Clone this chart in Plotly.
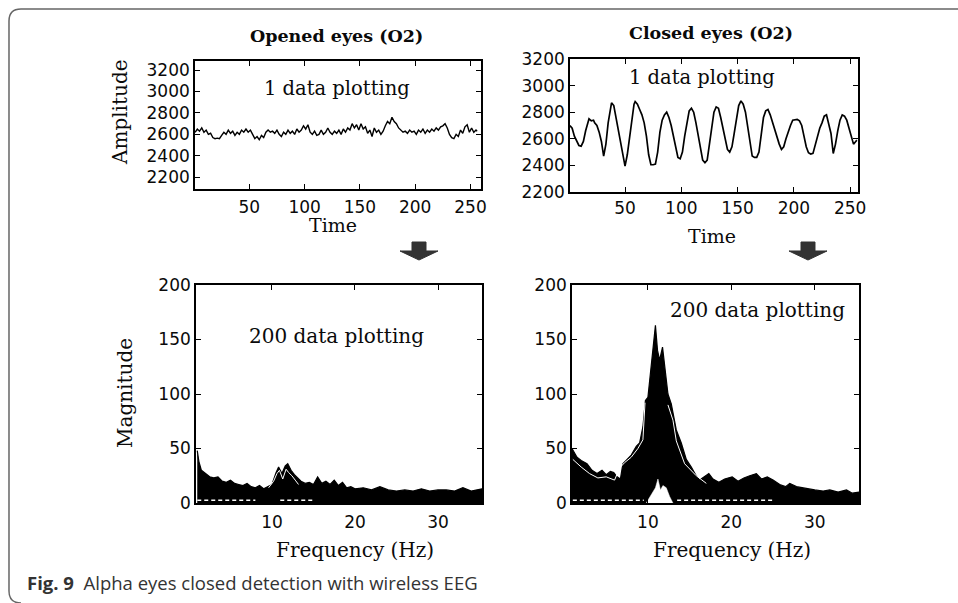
import plotly.graph_objects as go

W, H = 958, 603

# ---------------- data ----------------
# Opened eyes raw signal (time, amplitude)
open_t = [1, 3, 5, 7, 9, 11, 13, 15, 17, 19, 21, 23, 25, 27, 29, 31, 33, 35, 37, 39,
          41, 43, 45, 47, 49, 51, 53, 55, 57, 59, 61, 63, 65, 67, 69, 71, 73, 75, 77, 79,
          81, 83, 85, 87, 89, 91, 93, 95, 97, 99, 101, 103, 105, 107, 109, 111, 113, 115, 117, 119,
          121, 123, 125, 127, 129, 131, 133, 135, 137, 139, 141, 143, 145, 147, 149, 151, 153, 155, 157, 159,
          161, 163, 165, 167, 169, 171, 173, 175, 177, 179, 181, 183, 185, 187, 189, 191, 193, 195, 197, 199,
          201, 203, 205, 207, 209, 211, 213, 215, 217, 219, 221, 223, 225, 227, 229, 231, 233, 235, 237, 239,
          241, 243, 245, 247, 249, 251, 253, 255, 256]
open_v = [2620, 2650, 2630, 2660, 2620, 2640, 2600, 2610, 2570, 2560, 2565, 2560, 2590, 2620, 2600, 2640, 2610, 2630, 2590, 2620,
          2600, 2640, 2620, 2650, 2620, 2640, 2600, 2560, 2580, 2550, 2590, 2570, 2620, 2640, 2620, 2630, 2610, 2640, 2600, 2580,
          2620, 2600, 2640, 2610, 2630, 2600, 2650, 2620, 2640, 2680, 2650, 2690, 2620, 2600, 2630, 2590, 2600, 2640, 2600, 2620,
          2660, 2620, 2600, 2630, 2610, 2640, 2600, 2650, 2620, 2660, 2640, 2700, 2660, 2690, 2640, 2700, 2650, 2670, 2610, 2640,
          2580, 2660, 2620, 2640, 2600, 2630, 2680, 2720, 2700, 2760, 2720, 2700, 2660, 2640, 2620, 2630, 2610, 2640, 2620, 2630,
          2600, 2640, 2620, 2650, 2610, 2640, 2620, 2650, 2630, 2660, 2640, 2670, 2680, 2700, 2660, 2600, 2570, 2560, 2600, 2580,
          2640, 2610, 2670, 2690, 2620, 2660, 2620, 2640, 2630]

# Closed eyes raw signal (time, amplitude)
closed_t = [1, 3, 5, 7, 9, 11, 13, 15, 17, 18, 20, 22, 23, 25, 27, 29, 31, 33, 35, 37,
            38, 40, 42, 44, 46, 48, 50, 52, 54, 56, 58, 59, 61, 63, 65, 67, 69, 71, 73, 75,
            77, 79, 81, 83, 85, 87, 89, 91, 93, 95, 97, 99, 101, 103, 105, 107, 109, 111, 113, 115,
            117, 119, 121, 123, 125, 127, 129, 131, 133, 135, 137, 139, 141, 143, 145, 147, 149, 151, 153, 155,
            157, 159, 161, 163, 165, 167, 169, 171, 173, 175, 177, 179, 181, 183, 185, 187, 189, 191, 193, 195,
            197, 199, 201, 203, 205, 207, 209, 211, 213, 215, 217, 219, 221, 223, 225, 227, 229, 231, 233, 235,
            237, 239, 241, 243, 245, 247, 249, 251, 253, 255, 256]
closed_v = [2700, 2680, 2620, 2580, 2550, 2545, 2580, 2660, 2730, 2750, 2735, 2740, 2720, 2700, 2650, 2580, 2470, 2560, 2720, 2840,
            2870, 2850, 2760, 2680, 2600, 2480, 2395, 2480, 2620, 2760, 2860, 2880, 2860, 2820, 2780, 2720, 2620, 2480, 2405, 2405,
            2410, 2500, 2650, 2740, 2780, 2800, 2760, 2700, 2620, 2540, 2460, 2450, 2500, 2620, 2730, 2810, 2830, 2800, 2720, 2620,
            2520, 2440, 2420, 2440, 2560, 2700, 2800, 2840, 2830, 2760, 2680, 2600, 2520, 2500, 2540, 2640, 2760, 2850, 2885, 2860,
            2800, 2700, 2580, 2470, 2460, 2460, 2500, 2640, 2760, 2810, 2820, 2780, 2720, 2660, 2600, 2560, 2520, 2540, 2600, 2660,
            2700, 2740, 2740, 2745, 2735, 2700, 2620, 2540, 2495, 2485, 2490, 2560, 2620, 2680, 2720, 2770, 2780, 2720, 2640, 2490,
            2560, 2660, 2740, 2780, 2770, 2740, 2680, 2620, 2560, 2580, 2590]

# Opened eyes spectra (200 overlaid): upper envelope
open_f = [1, 1.2, 1.5, 2, 2.5, 3, 3.5, 4, 4.5, 5, 5.5, 6, 6.5, 7, 7.5, 8, 8.5, 9, 9.5, 10,
          10.5, 10.8, 11.2, 11.6, 11.9, 12.3, 12.7, 13.1, 13.5, 14, 14.5, 15, 15.5, 16, 16.5, 17, 17.5, 18, 18.5, 19,
          19.5, 20, 21, 22, 23, 24, 25, 26, 27, 28, 29, 30, 31, 32, 33, 34, 35.3]
open_mag = [48, 38, 30, 27, 24, 23, 24, 20, 19, 21, 18, 17, 16, 18, 15, 14, 16, 13, 15, 17,
            28, 33, 27, 34, 36, 30, 26, 23, 20, 18, 19, 17, 24, 18, 20, 17, 21, 16, 19, 14,
            15, 13, 14, 12, 15, 12, 11, 12, 11, 13, 11, 12, 12, 11, 14, 11, 13]
# white gaps between overlaid curves near the alpha band
open_gap_f = [9.6, 10.2, 10.6, 10.9, 11.3, 11.7, 12.0, 12.4, 12.8, 13.2]
open_gap_mag = [14, 20, 27, 30, 22, 31, 28, 25, 21, 17]
open_dash_f = [1, 8, None, 11, 15]

# Closed eyes spectra (200 overlaid): upper envelope
closed_f = [0.9, 1.5, 2, 2.7, 3.3, 3.9, 4.5, 5, 5.5, 5.9, 6.3, 6.7, 7.0, 7.5, 8, 8.6, 9.0, 9.4, 9.7, 10.0,
            10.3, 10.6, 10.9, 11.15, 11.4, 11.75, 12.0, 12.4, 12.8, 13.1, 13.4, 14.0, 14.6, 15.2, 15.7, 16.2, 16.8, 17.3, 17.8, 18.5,
            19.2, 20.1, 20.8, 21.5, 22.2, 23.0, 23.6, 24.3, 25.0, 25.8, 26.5, 27.0, 27.8, 29.0, 30.0, 31.0, 31.8, 32.8, 33.8, 34.5, 35.3]
closed_mag = [50, 42, 39, 36, 30, 27, 30, 26, 29, 28, 24, 22, 36, 40, 44, 52, 55, 70, 94, 97,
              118, 140, 163, 140, 131, 143, 125, 100, 91, 78, 67, 55, 40, 33, 26, 21, 24, 27, 22, 19,
              22, 24, 20, 23, 25, 27, 22, 24, 21, 17, 15, 18, 15, 13, 12, 11, 12, 10, 12, 9, 10]
# inner white edges of the outermost curves
closed_gap_left_f = [1.0, 2.0, 3.0, 4.0, 5.0, 6.0, 6.6, 7.2, 8.0, 8.8, 9.4, 9.65]
closed_gap_left_mag = [40, 33, 27, 23, 24, 21, 32, 37, 42, 50, 58, 92]
closed_gap_right_f = [12.4, 13.0, 13.4, 14.4, 15.8, 17.0]
closed_gap_right_mag = [90, 76, 57, 36, 25, 18]
# empty region below the lowest curves at alpha band
closed_hole_f = [9.8, 10.1, 10.5, 10.9, 11.2, 11.5, 11.8, 12.2, 12.6, 13.0]
closed_hole_mag = [0, 4, 9, 14, 22, 12, 16, 14, 6, 0]
closed_dash_f = [1, 9.5, None, 13.5, 25]

time_ticks = [50, 100, 150, 200, 250]
amp_ticks = [2200, 2400, 2600, 2800, 3000, 3200]
freq_ticks = [10, 20, 30]
mag_ticks = [0, 50, 100, 150, 200]

# ---------------- helpers ----------------
def px(x):
    return x / W


def py(y):
    return 1 - y / H


SERIF = "DejaVu Serif"
SANS = "DejaVu Sans"
INK = "#0a0a0a"

fig = go.Figure()

# top signals
fig.add_trace(go.Scatter(x=open_t, y=open_v, mode="lines", line=dict(color="black", width=1.4),
                         xaxis="x", yaxis="y", hoverinfo="skip"))
fig.add_trace(go.Scatter(x=closed_t, y=closed_v, mode="lines", line=dict(color="black", width=1.7),
                         xaxis="x2", yaxis="y2", hoverinfo="skip"))

# bottom-left spectra
fig.add_trace(go.Scatter(x=open_f, y=open_mag, mode="lines", fill="tozeroy", fillcolor="black",
                         line=dict(color="black", width=1.2), xaxis="x3", yaxis="y3", hoverinfo="skip"))
fig.add_trace(go.Scatter(x=open_gap_f, y=open_gap_mag, mode="lines",
                         line=dict(color="white", width=1), xaxis="x3", yaxis="y3", hoverinfo="skip"))
fig.add_trace(go.Scatter(x=open_dash_f, y=[2.5] * len(open_dash_f), mode="lines",
                         line=dict(color="white", width=1.6, dash="4px,3px"),
                         xaxis="x3", yaxis="y3", hoverinfo="skip"))

# bottom-right spectra
fig.add_trace(go.Scatter(x=closed_f, y=closed_mag, mode="lines", fill="tozeroy", fillcolor="black",
                         line=dict(color="black", width=1.2), xaxis="x4", yaxis="y4", hoverinfo="skip"))
fig.add_trace(go.Scatter(x=closed_hole_f, y=closed_hole_mag, mode="lines", fill="tozeroy", fillcolor="white",
                         line=dict(color="white", width=0.5), xaxis="x4", yaxis="y4", hoverinfo="skip"))
fig.add_trace(go.Scatter(x=closed_gap_left_f, y=closed_gap_left_mag, mode="lines",
                         line=dict(color="white", width=1), xaxis="x4", yaxis="y4", hoverinfo="skip"))
fig.add_trace(go.Scatter(x=closed_gap_right_f, y=closed_gap_right_mag, mode="lines",
                         line=dict(color="white", width=1), xaxis="x4", yaxis="y4", hoverinfo="skip"))
fig.add_trace(go.Scatter(x=closed_dash_f, y=[2.5] * len(closed_dash_f), mode="lines",
                         line=dict(color="white", width=1.6, dash="4px,3px"),
                         xaxis="x4", yaxis="y4", hoverinfo="skip"))

axis_common = dict(showline=True, linecolor="black", linewidth=1.6, mirror="ticks",
                   ticks="inside", ticklen=5, tickwidth=1.4, tickcolor="black",
                   showgrid=False, zeroline=False, fixedrange=True, automargin=False,
                   tickfont=dict(family=SANS, size=17, color=INK))

fig.update_layout(
    width=W, height=H, autosize=False,
    margin=dict(l=0, r=0, t=0, b=0, pad=0, autoexpand=False),
    paper_bgcolor="white", plot_bgcolor="white",
    showlegend=False,
    xaxis=dict(domain=[px(195), px(481)], anchor="y", range=[0.9, 259.5], tickvals=time_ticks,
               ticklabelstandoff=2, **axis_common),
    yaxis=dict(domain=[py(189), py(61)], anchor="x", range=[2090, 3285], tickvals=amp_ticks, **axis_common),
    xaxis2=dict(domain=[px(570), px(858)], anchor="y2", range=[1.1, 257], tickvals=time_ticks,
                ticklabelstandoff=0, **axis_common),
    yaxis2=dict(domain=[py(192), py(59)], anchor="x2", range=[2200, 3200], tickvals=amp_ticks, **axis_common),
    xaxis3=dict(domain=[px(196), px(482)], anchor="y3", range=[0.85, 35.3], tickvals=freq_ticks,
                ticklabelstandoff=3, **axis_common),
    yaxis3=dict(domain=[py(503), py(285)], anchor="x3", range=[0, 200], tickvals=mag_ticks, **axis_common),
    xaxis4=dict(domain=[px(572), px(859)], anchor="y4", range=[0.9, 35.3], tickvals=freq_ticks,
                ticklabelstandoff=3, **axis_common),
    yaxis4=dict(domain=[py(503), py(285)], anchor="x4", range=[0, 200], tickvals=mag_ticks, **axis_common),
)


def note(text, x, y, size, family=SERIF, angle=0, bold=False, color=INK, xanchor="center"):
    fig.add_annotation(text=f"<b>{text}</b>" if bold else text, x=px(x), y=py(y), xref="paper", yref="paper",
                       showarrow=False, xanchor=xanchor, yanchor="middle", textangle=angle,
                       font=dict(family=family, size=size, color=color))


note("Opened eyes (O2)", 336, 36, 17.5, bold=True)
note("Closed eyes (O2)", 711, 33, 17.5, bold=True)
note("1 data plotting", 337, 88, 19.5)
note("1 data plotting", 702, 78, 19.5)
note("200 data plotting", 336, 336, 20)
note("200 data plotting", 757, 310, 20)
note("Amplitude", 120, 112, 20, angle=-90)
note("Magnitude", 125, 393, 20, angle=-90)
note("Time", 333, 225, 19)
note("Time", 712, 236, 19)
note("Frequency (Hz)", 355, 550, 20)
note("Frequency (Hz)", 732, 550, 20)
note("<b>Fig. 9</b>\u00a0\u00a0Alpha eyes closed detection with wireless EEG", 25, 582, 18.5,
     family="Open Sans", color="#333333", xanchor="left")


# frame (top and left edges, rounded corners)
def P(x, y):
    return f"{px(x):.5f},{py(y):.5f}"


frame = f"M {P(958, 9)} L {P(21, 9)} Q {P(9, 9)} {P(9, 21)} L {P(9, 591)} Q {P(9, 603)} {P(21, 603)}"
fig.add_shape(type="path", path=frame, xref="paper", yref="paper",
              line=dict(color="#666666", width=1.5))


def arrow(cx, top):
    pts = [(cx - 7, top), (cx + 7, top), (cx + 7, top + 9), (cx + 19, top + 9), (cx, top + 18),
           (cx - 19, top + 9), (cx - 7, top + 9)]
    return "M " + " L ".join(P(a, b) for a, b in pts) + " Z"


for cx in (419, 808):
    fig.add_shape(type="path", path=arrow(cx, 242), xref="paper", yref="paper",
                  fillcolor="#333333", line=dict(color="#333333", width=1))

pin = ("var d=document.getElementById('{plot_id}');"
       "d.style.position='fixed';d.style.left='0px';d.style.top='0px';"
       "document.body.style.margin='0';document.body.style.overflow='hidden';")
fig.write_html("out.html", config={"displayModeBar": False}, post_script=pin)
